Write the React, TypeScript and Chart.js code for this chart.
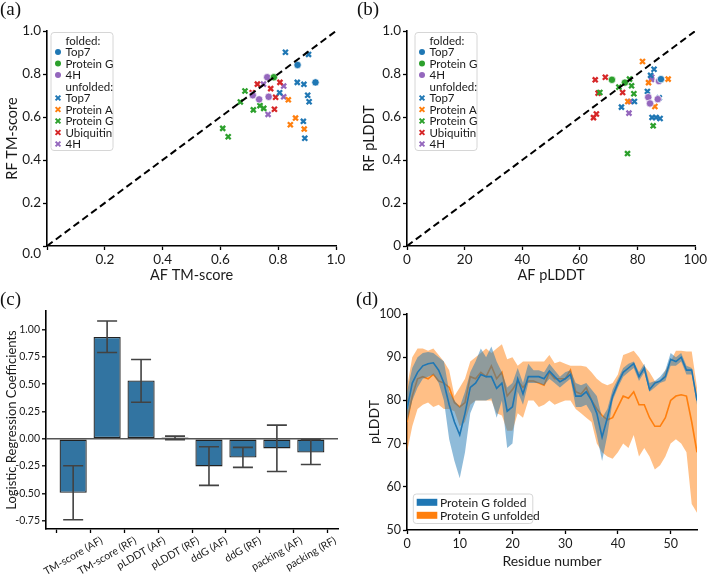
import React, { useEffect, useRef } from 'react';
import { Chart, registerables } from 'chart.js';
Chart.register(...registerables);

const SANS = 'Lato, "Open Sans", "DejaVu Sans", sans-serif';
const TEXT = '#1a1a1a';
const COL = { blue: '#1f77b4', orange: '#ff7f0e', green: '#2ca02c', red: '#d62728', purple: '#9467bd' };

// ---------- (a) RF TM-score vs AF TM-score ----------
const tmFoldedTop7 = [[0.867, 0.842], [0.929, 0.761]];
const tmFoldedProtG = [[0.785, 0.785]];
const tmFolded4H = [[0.762, 0.785], [0.712, 0.701], [0.734, 0.682], [0.767, 0.694]];
const tmUnfoldedTop7 = [[0.825, 0.901], [0.905, 0.891], [0.866, 0.761], [0.889, 0.752], [0.805, 0.713], [0.902, 0.701], [0.907, 0.671], [0.887, 0.580], [0.892, 0.501]];
const tmUnfoldedProtA = [[0.835, 0.680], [0.860, 0.595], [0.842, 0.564], [0.890, 0.544]];
const tmUnfoldedProtG = [[0.685, 0.721], [0.669, 0.670], [0.714, 0.633], [0.737, 0.653], [0.750, 0.640], [0.608, 0.547], [0.627, 0.508]];
const tmUnfoldedUbq = [[0.728, 0.753], [0.774, 0.732], [0.806, 0.761], [0.791, 0.692], [0.787, 0.636], [0.710, 0.713]];
const tmUnfolded4H = [[0.749, 0.753], [0.819, 0.744], [0.819, 0.694], [0.765, 0.612]];
const tmTicks = [0, 0.2, 0.4, 0.6, 0.8, 1.0];

// ---------- (b) RF pLDDT vs AF pLDDT ----------
const plFoldedTop7 = [[88.1, 0.776]];
const plFoldedProtG = [[71.1, 0.773], [75.6, 0.760]];
const plFolded4H = [[87.4, 0.767], [83.7, 0.692], [84.3, 0.663], [87.0, 0.683]];
const plUnfoldedTop7 = [[85.7, 0.822], [84.5, 0.794], [83.4, 0.719], [87.5, 0.689], [78.9, 0.672], [74.4, 0.646], [85.0, 0.598], [86.4, 0.598], [87.8, 0.593]];
const plUnfoldedProtA = [[81.7, 0.858], [83.8, 0.760], [90.6, 0.776], [86.0, 0.649], [76.6, 0.672]];
const plUnfoldedProtG = [[85.4, 0.559], [76.5, 0.430], [73.5, 0.739], [77.2, 0.776], [77.9, 0.745], [78.7, 0.708], [66.9, 0.714]];
const plUnfoldedUbq = [[65.3, 0.773], [68.8, 0.785], [66.3, 0.711], [74.8, 0.714], [65.7, 0.614], [64.7, 0.597]];
const plUnfolded4H = [[84.9, 0.785], [77.5, 0.672], [77.0, 0.618], [84.8, 0.775]];
const plXTicks = [0, 20, 40, 60, 80, 100];
const plYTicks = [0, 0.2, 0.4, 0.6, 0.8, 1.0];

// ---------- (c) logistic regression coefficients ----------
const coefLabels = ['TM-score (AF)', 'TM-score (RF)', 'pLDDT (AF)', 'pLDDT (RF)', 'ddG (AF)', 'ddG (RF)', 'packing (AF)', 'packing (RF)'];
const coefValues = [-0.494, 0.933, 0.534, 0.012, -0.253, -0.171, -0.088, -0.125];
const coefErrLow = [-0.741, 0.790, 0.335, -0.008, -0.427, -0.262, -0.299, -0.235];
const coefErrHigh = [-0.247, 1.079, 0.726, 0.024, -0.073, -0.079, 0.125, -0.008];
const coefTicks = [-0.75, -0.5, -0.25, 0, 0.25, 0.5, 0.75, 1.0];

// ---------- (d) per-residue pLDDT ----------
const residues = [0, 1, 2, 3, 4, 5, 6, 7, 8, 9, 10, 11, 12, 13, 14, 15, 16, 17, 18, 19, 20, 21, 22, 23, 24, 25, 26, 27, 28, 29, 30, 31, 32, 33, 34, 35, 36, 37, 38, 39, 40, 41, 42, 43, 44, 45, 46, 47, 48, 49, 50, 51, 52, 53, 54, 55];
const foldedMean = [78, 84, 86.5, 88, 88.5, 88.7, 87, 84, 79, 75, 72, 77, 83, 84, 86, 85.5, 85.5, 82.8, 84, 77.5, 78.5, 85, 81.5, 85.5, 85.5, 85.5, 85, 86.8, 85.5, 84.3, 85, 86, 81, 81, 82, 80, 77, 71.5, 76, 81, 84, 86.5, 87.5, 88.5, 85.5, 87.5, 82.5, 84, 84.5, 85.5, 89.5, 89, 90, 87, 87, 80];
const foldedLow = [75, 80, 83, 85, 85.5, 86, 84, 80, 71, 66, 62, 68, 77, 80, 80, 80, 80.5, 76, 80, 69, 70, 82, 79, 84, 84, 84, 83.5, 85, 84, 83, 84, 85, 78.5, 78.5, 79, 77, 72, 66, 72, 80, 83, 85.5, 86.5, 87.5, 84.5, 86.5, 82, 83, 84, 84.5, 88, 88, 89, 86, 86, 79];
const foldedHigh = [82, 87.5, 90, 91, 91.2, 91, 90, 89, 82, 80, 78.5, 82, 86.5, 89, 92, 90, 92.5, 89, 86.5, 83, 84, 87.5, 84, 88.5, 87, 87, 86.5, 88.5, 87, 85.5, 86.5, 87, 84, 83.5, 84, 82.5, 81, 76, 78, 82.5, 85, 87.5, 88.5, 89, 86.5, 88.5, 84, 84.5, 85.5, 87, 91, 90, 91, 88, 87.5, 80.5];
const unfoldedMean = [75, 81, 85, 85.5, 85, 86, 84.5, 84, 83, 79.5, 78.5, 79.5, 85.5, 85, 86.5, 85.5, 88, 85, 86.5, 81, 82.5, 84.5, 83, 84.5, 84.5, 84, 83.5, 86.5, 85, 85, 85, 87, 82, 81.5, 83, 80, 78, 76.5, 75.5, 76, 78.5, 81, 80.5, 82, 79, 79, 76, 74, 74, 76, 80, 81, 81.3, 81, 75, 68];
const unfoldedLow = [68, 74, 78, 79, 79.5, 78.5, 79, 78, 78, 77.5, 74, 75, 79, 80, 80, 80, 80, 77, 76.5, 73, 73, 77, 76, 80, 80, 78.5, 79, 80, 79, 79.5, 80, 80, 78, 77, 76, 75, 70, 68, 67, 66.5, 68, 70, 69, 72, 67, 69, 67, 64, 65, 67, 70, 71, 70, 68, 56, 54];
const unfoldedHigh = [83, 90, 92, 92, 91.5, 92, 90.5, 89, 87, 81, 83, 85, 89, 90, 91, 92, 91, 92, 93, 89.5, 90, 88, 89, 89, 89, 89, 89, 90.5, 88.6, 89, 88.5, 88, 88, 88, 87.8, 86.5, 85, 84, 83.5, 84, 86, 90.5, 91, 91.5, 90, 88, 86.5, 84.5, 84.3, 87, 89, 91.5, 91.5, 91.3, 91.3, 83];
const resXTicks = [0, 10, 20, 30, 40, 50];
const resYTicks = [50, 60, 70, 80, 90, 100];

// ---------- helpers ----------
const toXY = (pts: number[][]) => pts.map(([x, y]) => ({ x, y }));

function circleSet(label: string, pts: number[][], color: string) {
  return { label, data: toXY(pts), pointStyle: 'circle', pointRadius: 3.7, backgroundColor: color, borderColor: '#ffffff', borderWidth: 0.7, order: 2 };
}
function crossSet(label: string, pts: number[][], color: string) {
  return { label, data: toXY(pts), pointStyle: 'crossRot', pointRadius: 3.5, backgroundColor: color, borderColor: color, borderWidth: 2.3, order: 2 };
}

function makeAxis(o: { min: number; max: number; ticks: number[]; fmt: (v: number) => any; title?: string; titleSize?: number; tickSize: number; fit: number; horizontal: boolean; titlePad?: number; showLabels?: boolean; grid?: any }) {
  return {
    type: 'linear',
    min: o.min,
    max: o.max,
    afterBuildTicks: (s: any) => { s.ticks = o.ticks.map((v) => ({ value: v })); },
    afterFit: (s: any) => { if (o.horizontal) s.height = o.fit; else s.width = o.fit; },
    ticks: { display: o.showLabels !== false, callback: (v: any) => o.fmt(Number(v)), font: { family: SANS, size: o.tickSize }, color: TEXT, padding: 2, autoSkip: false, maxRotation: 0, minRotation: 0 },
    grid: o.grid || { display: true, drawOnChartArea: false, drawTicks: true, tickLength: 4, tickColor: '#000', tickWidth: 1.3 },
    border: { display: true, color: '#000', width: 1.6 },
    title: o.title ? { display: true, text: o.title, font: { family: SANS, size: o.titleSize || 14 }, color: TEXT, padding: { top: o.titlePad ?? 4, bottom: o.titlePad ?? 4 } } : { display: false },
  };
}

function roundRect(ctx: CanvasRenderingContext2D, x: number, y: number, w: number, h: number, r: number) {
  ctx.beginPath();
  ctx.moveTo(x + r, y);
  ctx.lineTo(x + w - r, y);
  ctx.arcTo(x + w, y, x + w, y + r, r);
  ctx.lineTo(x + w, y + h - r);
  ctx.arcTo(x + w, y + h, x + w - r, y + h, r);
  ctx.lineTo(x + r, y + h);
  ctx.arcTo(x, y + h, x, y + h - r, r);
  ctx.lineTo(x, y + r);
  ctx.arcTo(x, y, x + r, y, r);
  ctx.closePath();
}

const boxLegendPlugin = {
  id: 'boxLegend',
  afterDraw(chart: any, _a: any, opts: any) {
    if (!opts || !opts.items) return;
    const ctx: CanvasRenderingContext2D = chart.ctx;
    const { x, y, w, h, rowH, firstRow, markerDx, textDx, fontSize, items } = opts;
    ctx.save();
    roundRect(ctx, x, y, w, h, 3);
    ctx.fillStyle = 'rgba(255,255,255,0.85)';
    ctx.fill();
    ctx.strokeStyle = '#d6d6d6';
    ctx.lineWidth = 1;
    ctx.stroke();
    ctx.font = `${fontSize}px ${SANS}`;
    ctx.textBaseline = 'middle';
    ctx.textAlign = 'left';
    items.forEach((it: any, i: number) => {
      const cy = y + firstRow + i * rowH;
      const mx = x + markerDx;
      if (it.kind === 'circle') {
        ctx.beginPath();
        ctx.arc(mx, cy, 3, 0, Math.PI * 2);
        ctx.fillStyle = it.color;
        ctx.fill();
      } else if (it.kind === 'cross') {
        ctx.beginPath();
        ctx.strokeStyle = it.color;
        ctx.lineWidth = 2;
        ctx.moveTo(mx - 2.4, cy - 2.4); ctx.lineTo(mx + 2.4, cy + 2.4);
        ctx.moveTo(mx - 2.4, cy + 2.4); ctx.lineTo(mx + 2.4, cy - 2.4);
        ctx.stroke();
      } else if (it.kind === 'rect') {
        ctx.fillStyle = it.color;
        ctx.fillRect(x + it.rx, cy - 3.5, it.rw, 7);
      }
      ctx.fillStyle = TEXT;
      ctx.fillText(it.text, x + textDx, cy + 0.5);
    });
    ctx.restore();
  },
};

const scatterLegendItems = [
  { kind: 'header', text: 'folded:' },
  { kind: 'circle', text: 'Top7', color: COL.blue },
  { kind: 'circle', text: 'Protein G', color: COL.green },
  { kind: 'circle', text: '4H', color: COL.purple },
  { kind: 'header', text: 'unfolded:' },
  { kind: 'cross', text: 'Top7', color: COL.blue },
  { kind: 'cross', text: 'Protein A', color: COL.orange },
  { kind: 'cross', text: 'Protein G', color: COL.green },
  { kind: 'cross', text: 'Ubiquitin', color: COL.red },
  { kind: 'cross', text: '4H', color: COL.purple },
];

function ChartCanvas({ left, top, width, height, make }: { left: number; top: number; width: number; height: number; make: () => any }) {
  const ref = useRef<HTMLCanvasElement | null>(null);
  useEffect(() => {
    const chart = new Chart(ref.current as HTMLCanvasElement, make());
    return () => chart.destroy();
  }, []);
  return <canvas ref={ref} width={width} height={height} style={{ position: 'absolute', left, top, width, height }} />;
}

function scatterConfig(sets: number[][][], diagMax: number, xMax: number, xTicks: number[], xFmt: (v: number) => any, yFmt: (v: number) => any, xTitle: string, yTitle: string, yWidth: number, rightPad: number, legendX: number, yTitlePad: number) {
  return {
    type: 'scatter',
    data: {
      datasets: [
        { type: 'line', label: 'diag', data: [{ x: 0, y: 0 }, { x: diagMax, y: 1 }], borderColor: '#000', borderWidth: 2, borderDash: [7, 4], pointRadius: 0, showLine: true, fill: false, order: 0 },
        circleSet('Top7', sets[0], COL.blue),
        circleSet('Protein G', sets[1], COL.green),
        circleSet('4H', sets[2], COL.purple),
        crossSet('Top7', sets[3], COL.blue),
        crossSet('Protein A', sets[4], COL.orange),
        crossSet('Protein G', sets[5], COL.green),
        crossSet('Ubiquitin', sets[6], COL.red),
        crossSet('4H', sets[7], COL.purple),
      ],
    },
    options: {
      responsive: false,
      animation: false,
      events: [],
      layout: { padding: { top: 31, right: rightPad, left: 0, bottom: 0 } },
      scales: {
        x: makeAxis({ min: 0, max: xMax, ticks: xTicks, fmt: xFmt, title: xTitle, titleSize: 14.5, tickSize: 13.5, fit: 44, horizontal: true, titlePad: 6 }),
        y: makeAxis({ min: 0, max: 1, ticks: tmTicks, fmt: yFmt, title: yTitle, titleSize: 14.5, tickSize: 13.5, fit: yWidth, horizontal: false, titlePad: yTitlePad }),
      },
      plugins: {
        legend: { display: false },
        tooltip: { enabled: false },
        boxLegend: { x: legendX, y: 32.5, w: 62, h: 118, rowH: 11.5, firstRow: 8, markerDx: 7, textDx: 14.5, fontSize: 11.5, items: scatterLegendItems },
      },
    },
    plugins: [boxLegendPlugin],
  };
}

const barExtrasPlugin = {
  id: 'barExtras',
  afterDraw(chart: any) {
    const xs = chart.scales.x;
    const ys = chart.scales.y;
    const ctx: CanvasRenderingContext2D = chart.ctx;
    ctx.save();
    ctx.strokeStyle = '#424242';
    ctx.lineWidth = 1.6;
    coefValues.forEach((_, i) => {
      const px = xs.getPixelForValue(i);
      const yl = ys.getPixelForValue(coefErrLow[i]);
      const yh = ys.getPixelForValue(coefErrHigh[i]);
      ctx.beginPath();
      ctx.moveTo(px, yl); ctx.lineTo(px, yh);
      ctx.moveTo(px - 10, yl); ctx.lineTo(px + 10, yl);
      ctx.moveTo(px - 10, yh); ctx.lineTo(px + 10, yh);
      ctx.stroke();
    });
    const fs = 10.5;
    ctx.font = `${fs}px ${SANS}`;
    ctx.fillStyle = TEXT;
    ctx.textAlign = 'center';
    ctx.textBaseline = 'middle';
    const ang = Math.PI / 6;
    coefLabels.forEach((lab, i) => {
      const px = xs.getPixelForValue(i);
      const w = ctx.measureText(lab).width;
      const bh = w * Math.sin(ang) + fs * Math.cos(ang);
      const cy = chart.chartArea.bottom + 6 + bh / 2;
      ctx.save();
      ctx.translate(px, cy);
      ctx.rotate(-ang);
      ctx.fillText(lab, 0, 0);
      ctx.restore();
    });
    ctx.restore();
  },
};

function barConfig() {
  return {
    type: 'bar',
    data: {
      datasets: [{
        label: 'coef',
        data: coefValues.map((v, i) => ({ x: i, y: v })),
        backgroundColor: '#3274a1',
        borderColor: '#222222',
        borderWidth: 1.3,
        borderSkipped: false,
        barPercentage: 0.8,
        categoryPercentage: 1.0,
      }],
    },
    options: {
      responsive: false,
      animation: false,
      events: [],
      layout: { padding: { top: 21, right: 16, left: 0, bottom: 0 } },
      scales: {
        x: {
          ...makeAxis({ min: -0.8, max: 7.8, ticks: coefValues.map((_, i) => i), fmt: () => '', tickSize: 10.5, fit: 47, horizontal: true, showLabels: false }),
          offset: false,
        },
        y: makeAxis({
          min: -0.826, max: 1.17, ticks: coefTicks, fmt: (v) => v.toFixed(2), title: 'Logistic Regression Coefficients', titleSize: 13, tickSize: 10.5, fit: 46, horizontal: false, titlePad: 4,
          grid: { display: true, drawOnChartArea: true, drawTicks: true, tickLength: 4, tickColor: '#000', tickWidth: 1.3, lineWidth: 1.6, color: (c: any) => (c.tick && c.tick.value === 0 ? '#555555' : 'rgba(0,0,0,0)') },
        }),
      },
      plugins: { legend: { display: false }, tooltip: { enabled: false } },
    },
    plugins: [barExtrasPlugin],
  };
}

function lineConfig() {
  const pts = (arr: number[]) => arr.map((v, i) => ({ x: residues[i], y: v }));
  const band = { pointRadius: 0, borderWidth: 0, borderColor: 'rgba(0,0,0,0)', tension: 0 };
  return {
    type: 'line',
    data: {
      datasets: [
        { label: 'folded hi', data: pts(foldedHigh), fill: '+1', backgroundColor: 'rgba(31,119,180,0.5)', ...band, order: 1 },
        { label: 'folded lo', data: pts(foldedLow), fill: false, ...band, order: 1 },
        { label: 'Protein G folded', data: pts(foldedMean), borderColor: COL.blue, borderWidth: 1.6, pointRadius: 0, fill: false, order: 0 },
        { label: 'unfolded hi', data: pts(unfoldedHigh), fill: '+1', backgroundColor: 'rgba(255,127,14,0.5)', ...band, order: 3 },
        { label: 'unfolded lo', data: pts(unfoldedLow), fill: false, ...band, order: 3 },
        { label: 'Protein G unfolded', data: pts(unfoldedMean), borderColor: COL.orange, borderWidth: 1.6, pointRadius: 0, fill: false, order: 2 },
      ],
    },
    options: {
      responsive: false,
      animation: false,
      events: [],
      layout: { padding: { top: 24, right: 12, left: 0, bottom: 0 } },
      scales: {
        x: makeAxis({ min: 0, max: 55, ticks: resXTicks, fmt: (v) => String(v), title: 'Residue number', titleSize: 14, tickSize: 12.5, fit: 46, horizontal: true, titlePad: 6 }),
        y: makeAxis({ min: 50, max: 100, ticks: resYTicks, fmt: (v) => String(v), title: 'pLDDT', titleSize: 14, tickSize: 12.5, fit: 53, horizontal: false, titlePad: 12 }),
      },
      plugins: {
        legend: { display: false },
        tooltip: { enabled: false },
        boxLegend: {
          x: 59.3, y: 204, w: 119.5, h: 29.5, rowH: 13, firstRow: 8.3, markerDx: 0, textDx: 26.7, fontSize: 12,
          items: [
            { kind: 'rect', text: 'Protein G folded', color: COL.blue, rx: 3.4, rw: 20.6 },
            { kind: 'rect', text: 'Protein G unfolded', color: COL.orange, rx: 3.4, rw: 20.6 },
          ],
        },
      },
    },
    plugins: [boxLegendPlugin],
  };
}

const panelLabel = (text: string, left: number, top: number) => (
  <div style={{ position: 'absolute', left, top, fontFamily: '"Liberation Serif", "DejaVu Serif", serif', fontSize: 19, lineHeight: '20px', color: '#111' }}>{text}</div>
);

export default function App() {
  return (
    <div style={{ position: 'absolute', left: 0, top: 0, width: 709, height: 576, background: '#fff', overflow: 'hidden' }}>
      <ChartCanvas left={0} top={0} width={354} height={290}
        make={() => scatterConfig(
          [tmFoldedTop7, tmFoldedProtG, tmFolded4H, tmUnfoldedTop7, tmUnfoldedProtA, tmUnfoldedProtG, tmUnfoldedUbq, tmUnfolded4H],
          1, 1, tmTicks, (v) => (v === 0 ? '' : v.toFixed(1)), (v) => (v === 0 ? ['', '0.0'] : v.toFixed(1)), 'AF TM-score', 'RF TM-score', 47, 18, 51, 4)} />
      <ChartCanvas left={354} top={0} width={355} height={290}
        make={() => scatterConfig(
          [plFoldedTop7, plFoldedProtG, plFolded4H, plUnfoldedTop7, plUnfoldedProtA, plUnfoldedProtG, plUnfoldedUbq, plUnfolded4H],
          100, 100, plXTicks, (v) => String(v), (v) => (v === 0 ? '0' : v.toFixed(1)), 'AF pLDDT', 'RF pLDDT', 53, 11, 61, 7)} />
      <ChartCanvas left={0} top={290} width={354} height={286} make={barConfig} />
      <ChartCanvas left={354} top={290} width={355} height={286} make={lineConfig} />
      {panelLabel('(a)', 0, -1)}
      {panelLabel('(b)', 357, -1)}
      {panelLabel('(c)', 0, 289)}
      {panelLabel('(d)', 356, 289)}
    </div>
  );
}
